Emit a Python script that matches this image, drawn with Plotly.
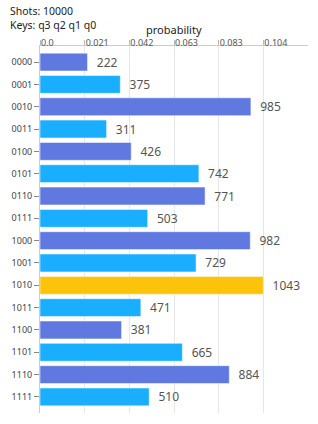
import plotly.graph_objects as go

keys = ["0000", "0001", "0010", "0011", "0100", "0101", "0110", "0111",
        "1000", "1001", "1010", "1011", "1100", "1101", "1110", "1111"]
counts = [222, 375, 985, 311, 426, 742, 771, 503,
          982, 729, 1043, 471, 381, 665, 884, 510]
shots = 10000
qubit_order = "q3 q2 q1 q0"

probs = [c / shots for c in counts]
pmax = max(probs)
tickvals = [pmax * i / 5 for i in range(6)]
ticktext = ["0.0"] + [f"{v:.3f}" for v in tickvals[1:]]

dark = "#6079e0"
light = "#1aaeff"
gold = "#fcc30b"
colors = []
for i, c in enumerate(counts):
    if c == max(counts):
        colors.append(gold)
    else:
        colors.append(dark if i % 2 == 0 else light)

fig = go.Figure(go.Bar(
    x=probs, y=keys, orientation="h",
    marker=dict(color=colors, line=dict(color="rgba(255,255,255,0.5)", width=1)),
    text=[str(c) for c in counts], texttemplate="  %{text}", textposition="outside",
    textfont=dict(size=12, color="#555555"),
    cliponaxis=False,
))

fig.update_layout(
    width=318, height=424,
    margin=dict(l=40, r=10, t=46, b=11),
    paper_bgcolor="white", plot_bgcolor="white",
    font=dict(family="Noto Sans", color="#444444"),
    bargap=0.2,
    showlegend=False,
    xaxis=dict(
        side="top", range=[0, pmax * 1.2],
        tickvals=tickvals, ticktext=ticktext,
        ticks="outside", ticklen=5, tickcolor="#bbbbbb",
        ticklabelposition="outside right", ticklabelstandoff=-5,
        tickfont=dict(size=9, color="#555555"),
        showgrid=True, gridcolor="#e6e6ea", gridwidth=1,
        showline=True, linecolor="#cccccc", linewidth=1,
        zeroline=False, automargin=False,
    ),
    yaxis=dict(
        range=[15.72, -0.72],
        ticks="outside", ticklen=5, tickcolor="#888888",
        tickfont=dict(size=9, color="#444444"),
        showline=True, linecolor="#cccccc",
        showgrid=False, automargin=False,
    ),
    annotations=[
        dict(text=f"Shots: {shots}<br>Keys: {qubit_order}", xref="paper", yref="paper",
             x=0, xshift=-32, y=1, yshift=28, xanchor="left", yanchor="middle",
             align="left", showarrow=False, font=dict(size=10.5, color="#222222")),
        dict(text="probability", xref="paper", yref="paper",
             x=0.5, y=1, yshift=17, xanchor="center", yanchor="middle",
             showarrow=False, font=dict(size=11, color="#222222")),
    ],
)

fig.write_html("out.html", config={"displayModeBar": False},
               post_script="document.body.style.margin='0';")
